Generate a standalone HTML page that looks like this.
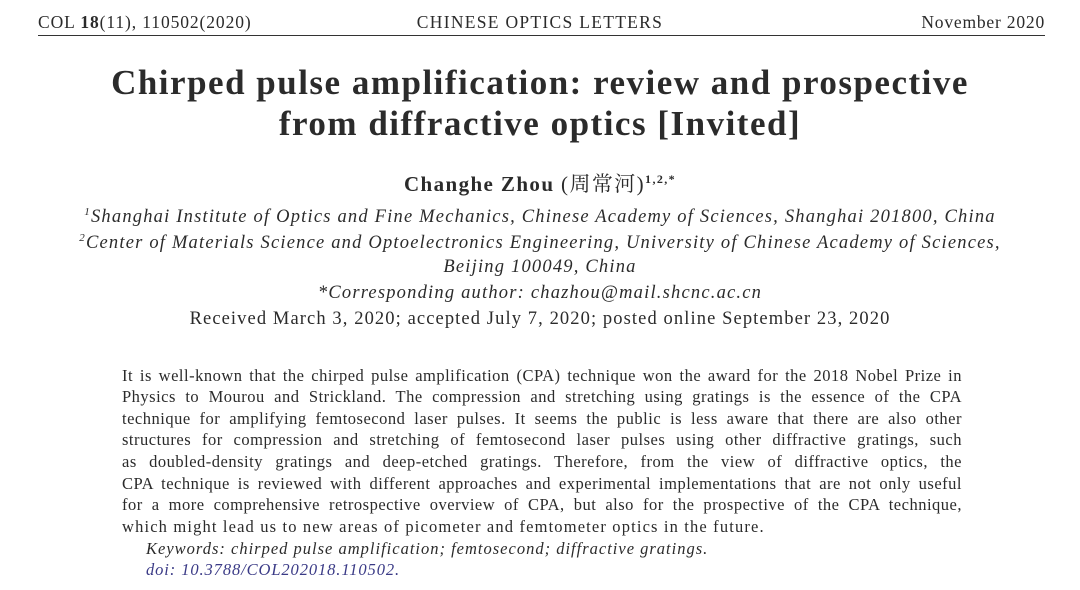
<!DOCTYPE html>
<html><head><meta charset="utf-8"><style>
body{margin:0;width:1080px;height:590px;background:#fff;font-family:"Liberation Serif","Noto Serif CJK SC",serif;color:#2b2b2b;position:relative;overflow:hidden}
.l{position:absolute;white-space:nowrap}
.c{left:0;width:1080px;text-align:center}
.j{left:122px;width:840px;text-align:justify;text-align-last:justify;font-size:16.5px;white-space:normal;letter-spacing:0.5px}
.i{font-style:italic}
</style></head><body>
<div class="l" style="left:38px;top:12px;font-size:17.5px;letter-spacing:0.9px">COL <b>18</b>(11), 110502(2020)</div>
<div class="l c" style="top:12px;font-size:17.5px;letter-spacing:1.3px">CHINESE OPTICS LETTERS</div>
<div class="l" style="right:35px;top:12px;font-size:17.5px;letter-spacing:0.8px">November 2020</div>
<div style="position:absolute;left:38px;top:35px;width:1007px;height:1px;background:#333"></div>
<div class="l c" style="top:63px;font-size:35px;font-weight:bold;letter-spacing:1.5px">Chirped pulse amplification: review and prospective</div>
<div class="l c" style="top:104px;font-size:35px;font-weight:bold;letter-spacing:1.5px">from diffractive optics [Invited]</div>
<div class="l c" style="top:168px;font-size:21px;letter-spacing:1.4px"><b>Changhe Zhou</b> (周常河)<sup style="font-size:12px;font-weight:bold">1,2,*</sup></div>
<div class="l c i" style="top:206px;font-size:18.5px;letter-spacing:1.2px"><sup style="font-size:11px">1</sup>Shanghai Institute of Optics and Fine Mechanics, Chinese Academy of Sciences, Shanghai 201800, China</div>
<div class="l c i" style="top:232px;font-size:18.5px;letter-spacing:1.2px"><sup style="font-size:11px">2</sup>Center of Materials Science and Optoelectronics Engineering, University of Chinese Academy of Sciences,</div>
<div class="l c i" style="top:257px;font-size:18.5px;letter-spacing:1.2px">Beijing 100049, China</div>
<div class="l c i" style="top:283px;font-size:18.5px;letter-spacing:1.2px">*Corresponding author: chazhou@mail.shcnc.ac.cn</div>
<div class="l c" style="top:309px;font-size:18.5px;letter-spacing:1.1px">Received March 3, 2020; accepted July 7, 2020; posted online September 23, 2020</div>
<div class="l j" style="top:366px">It is well-known that the chirped pulse amplification (CPA) technique won the award for the 2018 Nobel Prize in</div>
<div class="l j" style="top:387px">Physics to Mourou and Strickland. The compression and stretching using gratings is the essence of the CPA</div>
<div class="l j" style="top:409px">technique for amplifying femtosecond laser pulses. It seems the public is less aware that there are also other</div>
<div class="l j" style="top:430px">structures for compression and stretching of femtosecond laser pulses using other diffractive gratings, such</div>
<div class="l j" style="top:452px">as doubled-density gratings and deep-etched gratings. Therefore, from the view of diffractive optics, the</div>
<div class="l j" style="top:474px">CPA technique is reviewed with different approaches and experimental implementations that are not only useful</div>
<div class="l j" style="top:495px">for a more comprehensive retrospective overview of CPA, but also for the prospective of the CPA technique,</div>
<div class="l" style="left:122px;top:517px;font-size:16.5px;letter-spacing:1.15px">which might lead us to new areas of picometer and femtometer optics in the future.</div>
<div class="l i" style="left:146px;top:539px;font-size:16.5px;letter-spacing:1px">Keywords: chirped pulse amplification; femtosecond; diffractive gratings.</div>
<div class="l i" style="left:146px;top:560px;font-size:16.5px;letter-spacing:0.9px;color:#3a3a86">doi: 10.3788/COL202018.110502.</div>
</body></html>
